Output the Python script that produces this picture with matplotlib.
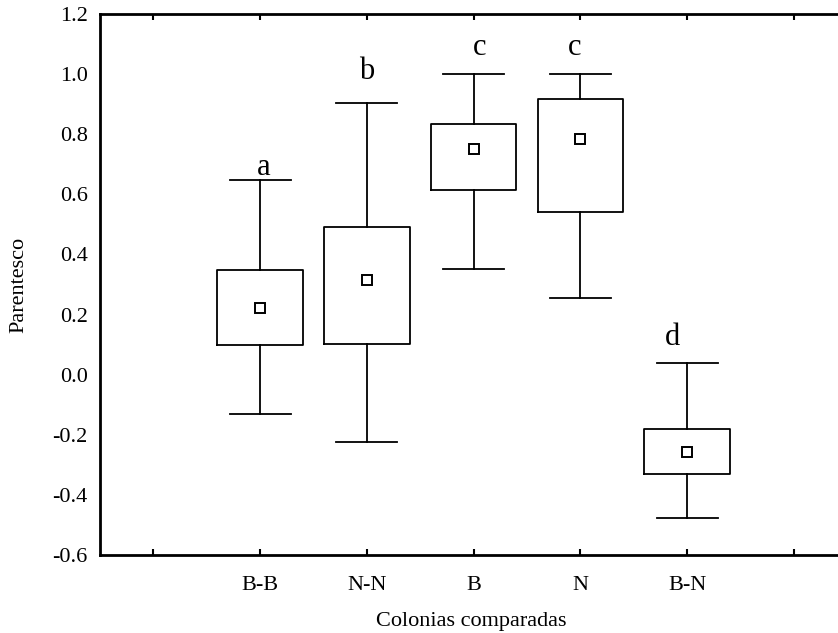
import matplotlib
matplotlib.use("Agg")
import matplotlib.pyplot as plt

categories = ["B-B", "N-N", "B", "N", "B-N"]
whisker_low = [-0.13, -0.225, 0.353, 0.255, -0.478]
box_low = [0.099, 0.103, 0.616, 0.541, -0.330]
box_high = [0.347, 0.490, 0.833, 0.916, -0.182]
whisker_high = [0.647, 0.905, 1.0, 1.0, 0.039]
means = [0.221, 0.314, 0.752, 0.785, -0.258]
letters = ["a", "b", "c", "c", "d"]
letter_y = [0.664, 0.984, 1.064, 1.064, 0.099]
letter_dx = [0.03, 0.0, 0.06, -0.05, -0.14]

plt.rcParams["font.family"] = ["Liberation Serif", "DejaVu Serif"]

fig = plt.figure(figsize=(8.38, 6.33), dpi=100)
ax = fig.add_axes([100 / 838, 78 / 633, 800.6 / 838, 541 / 633])

positions = list(range(1, len(categories) + 1))
stats = []
for i in range(len(categories)):
    stats.append(dict(med=means[i], q1=box_low[i], q3=box_high[i],
                      whislo=whisker_low[i], whishi=whisker_high[i],
                      mean=means[i], fliers=[]))

lw = 1.3
ax.bxp(stats, positions=positions, widths=0.8, capwidths=0.57,
       showmeans=True, showfliers=False,
       boxprops=dict(color="black", linewidth=lw),
       whiskerprops=dict(color="black", linewidth=lw),
       capprops=dict(color="black", linewidth=lw),
       medianprops=dict(linewidth=0),
       meanprops=dict(marker="s", markerfacecolor="white",
                      markeredgecolor="black", markersize=6.5,
                      markeredgewidth=1.4))

for p, t, y, dx in zip(positions, letters, letter_y, letter_dx):
    ax.text(p + dx, y, t, ha="center", va="baseline", fontsize=22)

ax.set_xlim(-0.5, 7)
ax.set_ylim(-0.6, 1.2)
ax.set_xticks(range(0, 7))
ax.set_xticklabels([""] + categories + [""], fontsize=16)
ax.set_yticks([-0.6, -0.4, -0.2, 0.0, 0.2, 0.4, 0.6, 0.8, 1.0, 1.2])
ax.set_yticklabels(["%.1f" % v for v in ax.get_yticks()], fontsize=16)
ax.tick_params(axis="x", direction="in", length=4, width=1.5, top=True,
               pad=15)
ax.tick_params(axis="y", length=0, pad=9)
ax.spines["right"].set_visible(False)
for s in ["left", "top", "bottom"]:
    ax.spines[s].set_linewidth(2)

ax.set_xlabel("Colonias comparadas", fontsize=16)
ax.xaxis.set_label_coords((471 - 100) / 800.6, -0.105)
ax.set_ylabel("Parentesco", fontsize=16)
ax.yaxis.set_label_coords(-0.09, 0.5)

fig.savefig("out.png", dpi=100)
